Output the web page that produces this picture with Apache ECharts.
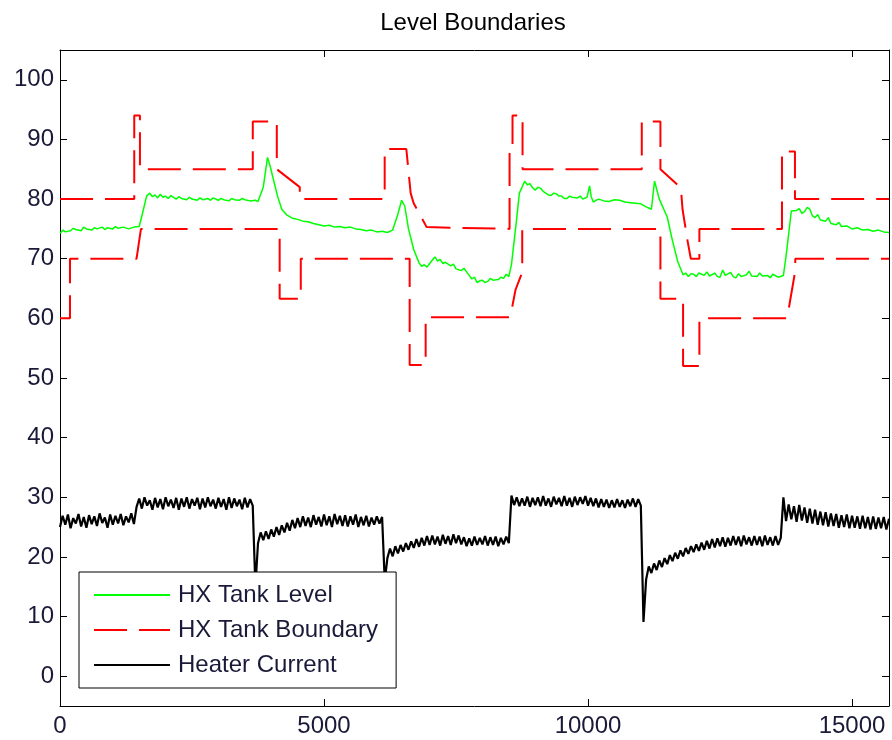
<!DOCTYPE html>
<html>
<head>
<meta charset="utf-8">
<title>Level Boundaries</title>
<script src="https://cdn.jsdelivr.net/npm/echarts@6/dist/echarts.min.js"></script>
<style>
  html, body { margin: 0; padding: 0; background: #fff; }
  #chart { width: 892px; height: 740px; }
</style>
</head>
<body>
<div id="chart"></div>
<script>
// tank level, [time, %]
const levelPoints = [
  [0,74.3],[60,74.8],[100,74.5],[200,74.7],[250,75.1],[300,74.9],[400,74.7],[450,75.3],[500,75.0],[600,74.8],
  [650,75.2],[700,75.0],[800,75.3],[850,74.9],[900,75.2],[1000,75.0],[1050,75.4],[1100,75.1],[1200,75.3],
  [1300,75.0],[1400,75.3],[1500,75.4],[1560,77.5],[1640,80.5],[1700,81.0],[1750,80.4],[1800,80.7],[1850,80.2],
  [1900,80.8],[1950,80.3],[2000,80.5],[2050,80.1],[2100,80.6],[2200,80.0],[2250,80.4],[2300,80.1],[2400,79.9],
  [2450,80.3],[2500,80.0],[2600,79.8],[2650,80.2],[2700,79.9],[2800,80.1],[2850,79.8],[2900,80.2],[3000,79.8],
  [3050,80.1],[3100,79.9],[3200,79.7],[3250,80.1],[3300,79.9],[3400,79.8],[3450,80.1],[3500,79.9],[3600,79.7],
  [3700,79.8],[3750,79.6],[3850,82.0],[3930,87.0],[3980,85.5],[4050,83.0],[4120,80.5],[4200,78.3],[4300,77.3],
  [4400,76.8],[4500,76.6],[4600,76.3],[4700,76.2],[4800,75.9],[4900,75.7],[5000,75.5],[5100,75.6],[5200,75.3],
  [5300,75.4],[5400,75.2],[5500,75.3],[5600,75.0],[5700,74.9],[5800,74.7],[5900,74.8],[6000,74.5],[6100,74.6],
  [6200,74.4],[6300,74.8],[6400,77.5],[6470,79.8],[6530,78.8],[6600,75.0],[6700,71.5],[6800,69.3],[6850,68.7],
  [6900,69.0],[6950,68.6],[7000,69.2],[7100,70.3],[7150,69.6],[7200,69.9],[7250,69.2],[7300,69.4],[7400,68.8],
  [7450,69.1],[7500,68.3],[7600,68.0],[7650,68.4],[7700,67.8],[7750,67.2],[7800,66.6],[7850,66.9],[7900,66.0],
  [7950,66.3],[8000,66.4],[8050,66.0],[8100,66.2],[8150,66.7],[8200,66.4],[8300,66.5],[8350,66.9],[8400,66.7],
  [8450,67.4],[8500,67.0],[8550,69.0],[8640,76.0],[8700,81.0],[8800,83.0],[8850,82.4],[8900,82.6],[8950,81.9],
  [9000,81.5],[9050,82.0],[9100,81.8],[9150,81.3],[9200,81.0],[9250,80.7],[9300,80.6],[9350,81.0],[9400,80.9],
  [9450,80.5],[9500,80.5],[9550,80.1],[9600,80.1],[9650,80.5],[9700,80.3],[9800,80.2],[9850,80.5],[9900,80.0],
  [9980,80.3],[10030,82.2],[10060,80.4],[10100,79.5],[10150,79.8],[10200,80.0],[10300,79.7],[10400,79.6],
  [10500,79.9],[10600,79.8],[10700,79.5],[10800,79.4],[10900,79.3],[11000,79.2],[11100,78.7],[11200,78.3],
  [11260,83.0],[11350,80.0],[11500,77.0],[11600,73.0],[11700,69.5],[11800,67.3],[11850,67.6],[11900,67.0],
  [11950,67.5],[12000,67.4],[12050,67.0],[12100,67.6],[12200,67.2],[12250,67.8],[12300,67.1],[12400,67.6],
  [12450,67.0],[12500,66.9],[12550,68.1],[12600,67.2],[12700,67.7],[12750,67.0],[12800,66.8],[12850,67.5],
  [12900,67.0],[13000,67.3],[13050,67.9],[13100,67.1],[13200,67.0],[13250,67.6],[13300,67.1],[13400,67.2],
  [13450,66.8],[13500,67.4],[13600,66.9],[13700,67.2],[13750,70.4],[13850,78.0],[13950,78.1],[14000,78.4],
  [14050,77.6],[14100,77.9],[14150,78.6],[14200,78.3],[14250,77.2],[14300,76.9],[14350,77.4],[14400,76.5],
  [14500,76.3],[14550,76.9],[14600,75.9],[14700,75.7],[14750,76.1],[14800,75.4],[14900,75.5],[15000,75.0],
  [15100,75.2],[15200,74.8],[15300,74.9],[15400,74.6],[15500,74.8],[15600,74.5],[15700,74.4]
];

// upper and lower boundary steps, [time, %]
const upperBound = [
  [0,80],[1406,80],[1406,94],[1514,94],[1514,85],[3651,85],[3651,93],[4106,93],[4106,85],[4541,82],[4541,80],
  [6149,80],[6149,88.4],[6559,88.4],[6641,81],[6698,79.3],[6944,75.3],[8514,75],[8514,88],[8570,88],[8570,94],
  [8760,94],[8760,85],[11018,85],[11018,93],[11371,93],[11371,85],[11758,81.9],[11790,78.3],[11885,73],
  [11947,70],[12109,70],[12109,75],[13673,75],[13673,88],[13919,88],[13919,80],[15700,80]
];
const lowerBound = [
  [0,60],[189,60],[189,70],[1450,70],[1533,75],[4160,75],[4160,63.3],[4560,63.3],[4560,70],[6622,70],
  [6622,52.2],[6925,52.2],[6925,60.2],[8527,60.2],[8627,64.8],[8754,67.7],[8754,75],[11371,75],[11371,63.3],
  [11800,63.3],[11800,52],[12109,52],[12109,60],[13770,60],[13925,68],[13925,70],[15700,70]
];

// heater current, one sample every 50 time units from 0
const currentStep = 50;
const currentValues = [
  // 0 - 1400
  25.0,26.9,25.4,27.1,24.8,26.5,25.6,27.2,25.1,26.7,24.9,27.0,25.5,26.8,25.2,27.3,25.7,26.6,24.9,27.1,
  25.4,26.9,25.6,27.2,25.3,26.8,25.8,27.3,25.5,
  // 1450 - 3650
  28.4,29.8,28.1,30.0,28.6,29.5,27.9,29.9,28.3,29.7,28.0,30.0,28.5,29.6,28.2,29.9,27.9,29.8,28.4,30.0,
  28.1,29.7,28.6,29.9,28.0,29.8,28.3,30.0,28.5,29.6,28.1,29.9,28.4,29.7,27.9,30.0,28.2,29.8,28.5,29.6,
  28.0,29.9,28.3,29.7,28.6,
  // 3700
  15.0,
  // 3750 - 6100
  22.3,24.1,22.8,24.3,23.0,24.6,23.4,25.0,23.7,25.3,24.1,25.7,24.4,26.2,24.8,26.5,25.0,26.8,25.2,26.6,
  25.0,27.0,25.4,26.7,25.1,27.1,25.3,26.8,25.0,27.2,25.5,26.9,25.2,27.0,25.1,26.8,25.4,27.1,25.0,26.7,
  25.3,26.9,25.1,26.6,25.4,26.8,25.6,26.7,
  // 6150
  16.0,
  // 6200 - 8500
  19.8,21.4,20.1,21.8,20.6,22.0,20.9,22.3,21.2,22.6,21.5,23.0,21.7,23.2,21.9,23.5,22.0,23.6,22.1,23.4,
  21.9,23.7,22.2,23.5,22.0,23.8,22.3,23.6,22.1,23.3,21.8,23.1,21.9,23.4,22.0,23.2,22.1,23.5,21.9,23.3,
  22.0,23.4,21.8,23.2,22.1,23.4,22.3,
  // 8550 - 11000
  30.3,28.7,30.0,28.5,29.8,28.6,30.1,28.4,29.9,28.7,30.0,28.5,30.2,28.6,29.8,28.4,30.1,28.8,29.9,28.5,
  30.2,28.6,29.9,28.4,30.1,28.7,30.0,28.9,30.2,28.6,29.9,28.5,29.8,28.3,29.7,28.4,29.6,28.2,29.5,28.3,
  29.7,28.4,29.5,28.2,29.6,28.5,29.8,28.4,29.7,28.6,
  // 11050
  9.1,
  // 11100 - 13650
  16.2,18.4,17.3,18.9,17.8,19.4,18.3,19.8,18.8,20.3,19.3,20.7,19.7,21.1,20.1,21.5,20.5,21.8,20.8,22.1,
  21.0,22.4,21.2,22.7,21.4,23.0,21.6,23.1,21.8,23.3,21.7,23.2,21.9,23.5,22.0,23.4,21.8,23.6,22.1,23.3,
  21.9,23.5,22.0,23.4,21.8,23.6,22.0,23.3,21.9,23.5,22.0,23.2,
  // 13700 - 15700
  30.0,26.0,28.8,26.3,28.5,25.9,28.7,26.1,28.3,25.7,28.1,25.6,27.9,25.4,27.6,25.3,27.5,25.1,27.3,25.2,
  27.2,24.9,27.0,25.0,27.1,24.8,26.9,24.9,26.8,24.7,26.9,24.8,26.7,24.6,26.8,24.7,26.6,24.8,26.7,24.6,
  26.4
];

const seriesNames = ['HX Tank Level', 'HX Tank Boundary', 'Heater Current'];
const xTickLabels = [0, 5000, 10000, 15000];

const chart = echarts.init(document.getElementById('chart'));
const font = "'Liberation Sans', Arial, sans-serif";
const labelColor = '#1a1a38';

const boxAxisX = {
  type: 'value', min: 0, max: 15700, interval: 5000,
  axisLine: { show: true, onZero: false, lineStyle: { color: '#000', width: 1 } },
  axisTick: { show: true, inside: true, length: 7, lineStyle: { color: '#000' } },
  splitLine: { show: false }
};
const boxAxisY = {
  type: 'value', min: -5, max: 105, minInterval: 10, maxInterval: 10,
  axisLine: { show: true, onZero: false, lineStyle: { color: '#000', width: 1 } },
  axisTick: { show: true, inside: true, length: 7, lineStyle: { color: '#000' } },
  splitLine: { show: false }
};

chart.setOption({
  animation: false,
  backgroundColor: '#fff',
  title: {
    text: 'Level Boundaries',
    left: 468, top: 6, textAlign: 'center',
    textStyle: { fontFamily: font, fontSize: 24, fontWeight: 'normal', color: '#000' }
  },
  grid: { left: 60, right: 2, top: 50, bottom: 34 },
  legend: {
    data: seriesNames,
    orient: 'vertical',
    left: 79, top: 572,
    padding: [11, 18, 11, 14],
    itemGap: 11,
    itemWidth: 76,
    itemHeight: 14,
    itemStyle: { opacity: 0 },
    backgroundColor: '#fff',
    borderColor: '#000',
    borderWidth: 1,
    borderRadius: 0,
    textStyle: { fontFamily: font, fontSize: 24, color: labelColor, padding: [0, 0, 0, 3] }
  },
  xAxis: [
    Object.assign({}, boxAxisX, {
      position: 'bottom',
      axisLabel: {
        margin: 8, fontFamily: font, fontSize: 24, color: labelColor,
        formatter: v => xTickLabels.includes(v) ? String(v) : ''
      }
    }),
    Object.assign({}, boxAxisX, { position: 'top', axisLabel: { show: false } })
  ],
  yAxis: [
    Object.assign({}, boxAxisY, {
      position: 'left',
      axisLabel: {
        margin: 6, fontFamily: font, fontSize: 24, color: labelColor,
        formatter: v => (v % 10 === 0 ? String(v) : '')
      }
    }),
    Object.assign({}, boxAxisY, { position: 'right', axisLabel: { show: false } })
  ],
  series: [
    {
      name: 'HX Tank Level', type: 'line', symbol: 'none',
      data: levelPoints,
      lineStyle: { color: '#00ff00', width: 1.5 },
      itemStyle: { color: '#00ff00' }
    },
    {
      name: 'HX Tank Boundary', type: 'line', symbol: 'none',
      data: upperBound,
      lineStyle: { color: '#ff0000', width: 2, type: [33, 12] },
      itemStyle: { color: '#ff0000' }
    },
    {
      name: 'HX Tank Boundary', type: 'line', symbol: 'none',
      data: lowerBound,
      lineStyle: { color: '#ff0000', width: 2, type: [33, 12] },
      itemStyle: { color: '#ff0000' }
    },
    {
      name: 'Heater Current', type: 'line', symbol: 'none',
      data: currentValues.map((v, i) => [i * currentStep, v]),
      lineStyle: { color: '#000', width: 2.2 },
      itemStyle: { color: '#000' }
    }
  ]
});
</script>
</body>
</html>
